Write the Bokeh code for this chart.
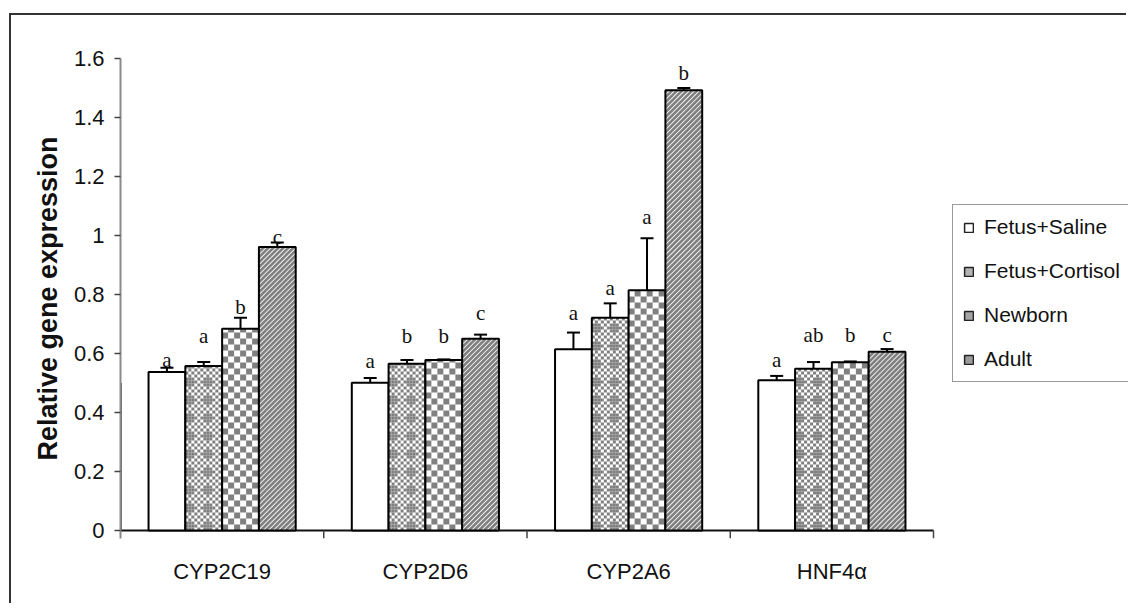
import math
from bokeh.plotting import figure
from bokeh.models import (Range1d, FixedTicker, Whisker, TeeHead, ColumnDataSource, Legend,
                          LegendItem)
from bokeh.transform import dodge
from bokeh.core.properties import value
from bokeh.embed import file_html
from bokeh.resources import INLINE

# ---------------- data ----------------
genes = ["CYP2C19", "CYP2D6", "CYP2A6", "HNF4α"]
groups = ["Fetus+Saline", "Fetus+Cortisol", "Newborn", "Adult"]

saline = [0.537, 0.501, 0.614, 0.509]
saline_err = [0.015, 0.016, 0.057, 0.015]
cortisol = [0.558, 0.565, 0.721, 0.548]
cortisol_err = [0.013, 0.013, 0.049, 0.023]
newborn = [0.684, 0.578, 0.814, 0.570]
newborn_err = [0.037, 0.002, 0.177, 0.003]
adult = [0.961, 0.650, 1.492, 0.606]
adult_err = [0.015, 0.014, 0.008, 0.009]

saline_letters = ["a", "a", "a", "a"]
cortisol_letters = ["a", "b", "a", "ab"]
newborn_letters = ["b", "b", "a", "b"]
adult_letters = ["c", "c", "b", "c"]
saline_letter_y = [0.578, 0.575, 0.738, 0.577]
cortisol_letter_y = [0.659, 0.659, 0.821, 0.662]
newborn_letter_y = [0.756, 0.659, 1.064, 0.662]
adult_letter_y = [0.995, 0.738, 1.552, 0.662]

y_ticks = [0, 0.2, 0.4, 0.6, 0.8, 1, 1.2, 1.4, 1.6]
y_tick_labels = ["0", "0.2", "0.4", "0.6", "0.8", "1", "1.2", "1.4", "1.6"]
y_label = "Relative gene expression"

series = [
    (groups[0], saline, saline_err, saline_letters, saline_letter_y),
    (groups[1], cortisol, cortisol_err, cortisol_letters, cortisol_letter_y),
    (groups[2], newborn, newborn_err, newborn_letters, newborn_letter_y),
    (groups[3], adult, adult_err, adult_letters, adult_letter_y),
]

# ---------------- layout / styles ----------------
FONT = "Liberation Sans"
BAR_W = 0.181
GRAY = "#808080"
W, H = 1117, 590
BL, BT, BB = 109, 43, 67          # borders: left, top, bottom
FRAME_W, FRAME_H = W - BL, H - BT - BB
Y_END = 1.6
Y_START = -8 / 295.0              # room for the group-boundary ticks below 0
PY = FRAME_H / (Y_END - Y_START)  # px per y unit
X_END = FRAME_W / 203.25
PX = FRAME_W / X_END              # px per x unit

# pattern per series: kind, cell/period px
patterns = [None, ("fine", 3), ("coarse", 6), ("stripe", 5)]
legend_fills = ["white", "#b4b4b4", "#a4a4a4", "#9c9c9c"]

centers = [i + 0.5 for i in range(len(genes))]
bounds = list(range(len(genes) + 1))

p = figure(
    x_range=Range1d(0, X_END),
    y_range=Range1d(Y_START, Y_END),
    width=W, height=H,
    output_backend="svg", toolbar_location=None,
    min_border_left=BL, min_border_right=0,
    min_border_top=BT, min_border_bottom=BB,
)
p.styles = {"position": "relative", "top": "13px", "left": "9px",
            "border-top": "2px solid #333", "border-left": "2px solid #333"}
p.outline_line_color = None
p.xgrid.visible = False
p.ygrid.visible = False
p.background_fill_color = "white"
p.border_fill_color = "white"

# y axis
ya = p.yaxis[0]
ya.ticker = FixedTicker(ticks=y_ticks)
ya.major_label_overrides = {t: l for t, l in zip(y_ticks, y_tick_labels)}
ya.major_label_text_font = FONT
ya.major_label_text_font_size = "22px"
ya.major_label_text_color = "#111"
ya.axis_line_color = "#8a8a8a"
ya.axis_line_width = 2
ya.major_tick_out = 6
ya.major_tick_in = 0
ya.major_tick_line_color = "#444"
ya.major_tick_line_width = 1.5
ya.minor_tick_line_color = None
ya.major_label_standoff = 10
ya.axis_label = y_label
ya.axis_label_text_font = FONT
ya.axis_label_text_font_style = "bold"
ya.axis_label_text_font_size = "27px"
ya.axis_label_text_color = "#111"
ya.axis_label_standoff = 8

# x axis: only the group labels (line and ticks drawn at y = 0 below)
xa = p.xaxis[0]
xa.ticker = FixedTicker(ticks=centers, minor_ticks=[])
xa.major_label_overrides = {c: g for c, g in zip(centers, genes)}
xa.major_label_text_font = FONT
xa.major_label_text_font_size = "22px"
xa.major_label_text_color = "#111"
xa.major_tick_line_color = None
xa.minor_tick_line_color = None
xa.major_tick_out = 0
xa.major_tick_in = 0
xa.axis_line_color = None
xa.major_label_standoff = 20

# category axis line at 0 and boundary ticks
p.segment(x0=[bounds[0]], x1=[bounds[-1]], y0=[0], y1=[0], line_color="#111", line_width=2)
p.segment(x0=bounds[1:], x1=bounds[1:], y0=[0] * len(bounds[1:]),
          y1=[Y_START] * len(bounds[1:]), line_color="#444", line_width=1.5)


def checker_cells(lefts, rights, tops, cell, plus):
    L, R, B, T = [], [], [], []
    for xl, xr, top in zip(lefts, rights, tops):
        ncol = math.ceil((xr - xl) * PX / cell)
        nrow = math.ceil(top * PY / cell)
        for i in range(ncol):
            for j in range(nrow):
                filled = (i + j) % 2 == 0
                if plus:
                    a, b = i % 6, j % 6
                    if (a, b) in ((1, 0), (0, 1), (2, 1), (1, 2)):
                        filled = True
                if not filled:
                    continue
                L.append(xl + i * cell / PX)
                R.append(min(xl + (i + 1) * cell / PX, xr))
                B.append(j * cell / PY)
                T.append(min((j + 1) * cell / PY, top))
    return dict(left=L, right=R, bottom=B, top=T)


def stripe_segments(lefts, rights, tops, period):
    X0, X1, Y0, Y1 = [], [], [], []
    for xl, xr, top in zip(lefts, rights, tops):
        wpx, hpx = (xr - xl) * PX, top * PY
        b = -wpx
        while b < hpx:
            x1 = max(0.0, -b)
            x2 = min(wpx, hpx - b)
            if x2 > x1:
                X0.append(xl + x1 / PX); Y0.append((x1 + b) / PY)
                X1.append(xl + x2 / PX); Y1.append((x2 + b) / PY)
            b += period
    return dict(x0=X0, x1=X1, y0=Y0, y1=Y1)


items = []
n = len(series)
for k, (name, vals, errs, letters, ly) in enumerate(series):
    off = (k - (n - 1) / 2) * BAR_W
    src = ColumnDataSource(dict(
        xc=centers, value=vals,
        upper=[v + e for v, e in zip(vals, errs)],
        letter=letters, ly=ly,
    ))
    lefts = [c + off - BAR_W / 2 for c in centers]
    rights = [c + off + BAR_W / 2 for c in centers]
    p.vbar(x=dodge("xc", off), top="value", width=BAR_W, source=src,
           fill_color="white", line_color=None)
    pat = patterns[k]
    if pat is not None:
        kind, size = pat
        if kind in ("fine", "coarse"):
            cells = checker_cells(lefts, rights, vals, size, plus=(kind == "fine"))
            p.quad(source=ColumnDataSource(cells), left="left", right="right",
                   bottom="bottom", top="top", fill_color=GRAY, line_color=None)
        else:
            segs = stripe_segments(lefts, rights, vals, size)
            p.segment(source=ColumnDataSource(segs), x0="x0", x1="x1", y0="y0", y1="y1",
                      line_color=GRAY, line_width=2.6)
    p.vbar(x=dodge("xc", off), top="value", width=BAR_W, source=src,
           fill_color=None, line_color="black", line_width=2)
    w = Whisker(base=dodge("xc", off), lower="value", upper="upper",
                source=src, dimension="height", line_color="black", line_width=2,
                lower_head=None,
                upper_head=TeeHead(size=13, line_color="black", line_width=2))
    p.add_layout(w)
    p.text(x=dodge("xc", off), y="ly", text="letter", source=src,
           text_align="center", text_baseline="alphabetic",
           text_font=value("Liberation Serif"), text_font_size="21px", text_color="#111")
    # legend swatch renderer: one point placed left of the visible x range
    sw = p.vbar(x=[-10], top=[0.5], width=BAR_W, fill_color=legend_fills[k],
                line_color="#222", line_width=1.5)
    items.append(LegendItem(label=name, renderers=[sw]))

legend = Legend(items=items, location=(832, 156))
legend.border_line_color = "#333"
legend.border_line_width = 1
legend.background_fill_color = "white"
legend.background_fill_alpha = 1
legend.padding = 10
legend.spacing = 20
legend.margin = 0
legend.glyph_width = 11
legend.glyph_height = 11
legend.label_height = 24
legend.label_standoff = 10
legend.label_text_font = FONT
legend.label_text_font_size = "21px"
legend.label_text_color = "#111"
p.add_layout(legend)

open("out.html", "w").write(file_html(p, INLINE))
